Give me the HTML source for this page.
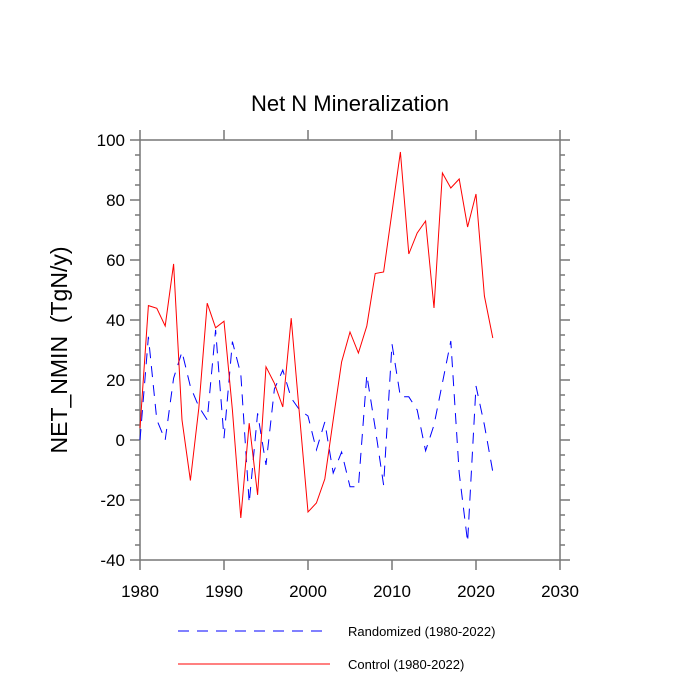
<!DOCTYPE html>
<html><head><meta charset="utf-8"><style>
body{margin:0;background:#fff;}
svg{display:block;font-family:"Liberation Sans",sans-serif;}
</style></head><body>
<svg id="chart" width="700" height="700">
<text x="350" y="111" font-size="22" text-anchor="middle">Net N Mineralization</text>
<text transform="translate(67,350) rotate(-90)" font-size="23" text-anchor="middle" style="white-space:pre">NET_NMIN  (TgN/y)</text>
<g id="axes"></g>
<g id="series"></g>
<g id="legend">
<line x1="178" y1="631" x2="330" y2="631" stroke="#00f" stroke-width="1" stroke-dasharray="11,8"/>
<text x="348" y="636" font-size="13">Randomized (1980-2022)</text>
<line x1="178" y1="664" x2="330" y2="664" stroke="#f00" stroke-width="1"/>
<text x="348" y="669" font-size="13">Control (1980-2022)</text>
</g>
</svg>
<script>
const years=[1980,1981,1982,1983,1984,1985,1986,1987,1988,1989,1990,1991,1992,1993,1994,1995,1996,1997,1998,1999,2000,2001,2002,2003,2004,2005,2006,2007,2008,2009,2010,2011,2012,2013,2014,2015,2016,2017,2018,2019,2020,2021,2022];
const control=[4,44.8,43.9,38,58.7,6.7,-13.5,10.6,45.6,37.4,39.6,10,-26,5.6,-18.3,24.4,18.9,11,40.6,8,-24,-21,-13,6.7,26,36,29,38,55.5,56,76,96,62,69,73,44,89,84,87,71,82,48,34];
const randomized=[0,34.4,6.7,0,20.6,29.4,17.8,11.1,6.7,36.7,0.6,32.8,22,-21,8.9,-8.3,17,23.3,14,10,8,-3.3,6,-11,-4,-15.6,-15.6,21.7,4,-15,32,14.4,14.4,10,-3.6,5,19,33,-11,-34,18,5,-10.6];
const xTicks=[1980,1990,2000,2010,2020,2030];
const yTicks=[-40,-20,0,20,40,60,80,100];
const X0=140,X1=560,Y0=560,Y1=140,xmin=1980,xmax=2030,ymin=-40,ymax=100;
const xs=v=>X0+(v-xmin)/(xmax-xmin)*(X1-X0);
const ys=v=>Y0-(v-ymin)/(ymax-ymin)*(Y0-Y1);
const NS="http://www.w3.org/2000/svg";
function mk(tag,attrs,parent){const e=document.createElementNS(NS,tag);for(const k in attrs)e.setAttribute(k,attrs[k]);parent.appendChild(e);return e;}
const axes=document.getElementById('axes'),ser=document.getElementById('series');
const frame=mk('rect',{x:X0,y:Y1,width:X1-X0,height:Y0-Y1,fill:'none',stroke:'#777','stroke-width':1.5},axes);


for(let v=ymin;v<=ymax;v+=5){const major=v%20===0;const len=major?10:5;const y=ys(v);
 const t1=mk('line',{x1:X0-len,y1:y,x2:X0,y2:y,stroke:'#777','stroke-width':1.5},axes);
 
 
 const t2=mk('line',{x1:X1,y1:y,x2:X1+len,y2:y,stroke:'#777','stroke-width':1.5},axes);
 
 }
yTicks.forEach(v=>{const t=mk('text',{x:X0-15,y:ys(v)+6,'font-size':17,'text-anchor':'end'},axes);t.textContent=v;
 
 });
xTicks.forEach(v=>{const x=xs(v);
 const a=mk('line',{x1:x,y1:Y0,x2:x,y2:Y0+10,stroke:'#777','stroke-width':1.5},axes);
 
 
 const b=mk('line',{x1:x,y1:Y1-10,x2:x,y2:Y1,stroke:'#777','stroke-width':1.5},axes);
 
 
 const t=mk('text',{x:x,y:Y0+37,'font-size':17,'text-anchor':'middle'},axes);t.textContent=v;
 
 });
const pts=arr=>arr.map((v,i)=>xs(years[i])+','+ys(v)).join(' ');
const r=mk('polyline',{points:pts(randomized),fill:'none',stroke:'#00f','stroke-width':1,'stroke-dasharray':'11,8'},ser);


const c=mk('polyline',{points:pts(control),fill:'none',stroke:'#f00','stroke-width':1},ser);


</script>
</body></html>
